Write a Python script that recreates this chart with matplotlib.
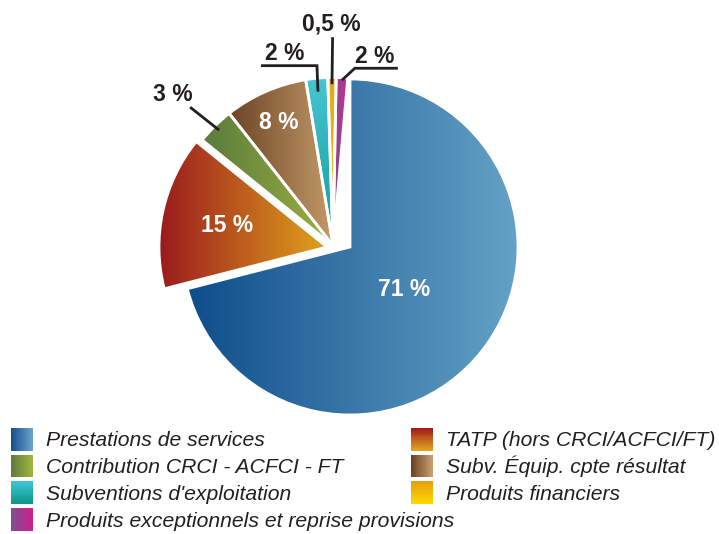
import numpy as np
import matplotlib
matplotlib.use("Agg")
import matplotlib.pyplot as plt
from matplotlib.legend_handler import HandlerBase
from matplotlib.patches import Rectangle
from matplotlib.colors import to_rgb

# ---------------- data ----------------
categories = [
    "Prestations de services",
    "TATP (hors CRCI/ACFCI/FT)",
    "Contribution CRCI - ACFCI - FT",
    "Subv. Équip. cpte résultat",
    "Subventions d'exploitation",
    "Produits financiers",
    "Produits exceptionnels et reprise provisions",
]
# share of the full circle (in %) as drawn in the picture
values = [71.0, 14.8, 3.6, 8.0, 2.1, 0.8, 1.1]
pct_labels = ["71 %", "15 %", "3 %", "8 %", "2 %", "0,5 %", "2 %"]

# ---------------- styles ----------------
# pie gradient: (start colour, end colour, vertical?)  start = left / top
pie_grad = [
    ("#0F4D8B", "#64A2C6", False),
    ("#9A1A1E", "#E0A21C", False),
    ("#5A7A3E", "#9CB03E", False),
    ("#6A4426", "#C49A68", False),
    ("#48C4D2", "#0F9E9A", True),
    ("#E8A614", "#F4C418", True),
    ("#7C4E8E", "#CC2A90", False),
]
leg_grad = [
    ("#1A4E8E", "#6AA4CC", False),
    ("#A01C1C", "#E2A41E", True),
    ("#5E7C3C", "#A2B43C", False),
    ("#6A4424", "#C8A070", False),
    ("#3CC6D4", "#0E9688", True),
    ("#E4A010", "#FFD800", True),
    ("#7C5090", "#D01E8C", False),
]
R_PX = 168.0
W, H = 719, 534
CX, CY = 343.0, 247.0
# offset of each slice (pixels, y up) – detached slices
shift_px = [(7, 0), (-16, 0), (-10, 1.5), (-10, 1.5), (-10, 1.5), (-10, 1.5), (-10, 1.5)]

plt.rcParams["font.family"] = ["Liberation Sans", "DejaVu Sans"]

fig = plt.figure(figsize=(W / 100, H / 100), dpi=100)
ax = fig.add_axes([0, 0, 1, 1])

frac = np.array(values) / 100.0
wp = dict(edgecolor="white", linewidth=2.0)
wA, _ = ax.pie(frac[:2], startangle=90, counterclock=False, radius=1.0,
               normalize=False, wedgeprops=wp)
wB, _ = ax.pie(frac[2:], startangle=90 - 360 * frac[:2].sum(), counterclock=False,
               radius=1.0, normalize=False, wedgeprops=wp)
wedges = list(wA) + list(wB)


def grad_array(c1, c2, vertical, n=256):
    a = np.array(to_rgb(c1))
    b = np.array(to_rgb(c2))
    t = np.linspace(0, 1, n)[:, None]
    cols = a + (b - a) * t
    if vertical:
        return cols[::-1][:, None, :]
    return cols[None, :, :]


for w, (dx, dy), (c1, c2, vert) in zip(wedges, shift_px, pie_grad):
    w.set_center((dx / R_PX, dy / R_PX))
    w.set_facecolor("none")
    w.set_zorder(3)
    ext = w.get_path().get_extents()
    im = ax.imshow(grad_array(c1, c2, vert), extent=[ext.x0, ext.x1, ext.y0, ext.y1],
                   origin="lower", aspect="auto", zorder=2, interpolation="bilinear")
    im.set_clip_path(w)


def wedge_point(w, f):
    th = np.deg2rad((w.theta1 + w.theta2) / 2.0)
    cx, cy = w.center
    return cx + f * w.r * np.cos(th), cy + f * w.r * np.sin(th)


lab_font = dict(fontsize=16.5, fontweight="bold", ha="center", va="center")

# inner labels
for idx, f in [(0, 0.41), (1, 0.61), (3, 0.80)]:
    x, y = wedge_point(wedges[idx], f)
    ax.text(x, y, pct_labels[idx], color="white", zorder=5, **lab_font)

# outer labels with leader lines (offsets in pixels, y up)
outer = [
    (2, 0.965, [(0, 0), (-29, 23)], (-46, 36)),
    (4, 0.92, [(0, 0), (-1, 26), (-57, 26)], (-33, 38.5)),
    (5, 0.96, [(0, 0), (0.6, 47)], (-0.4, 60.5)),
    (6, 0.985, [(0, 0), (13, 12), (56, 12)], (33, 23.5)),
]
for idx, f, pts, toff in outer:
    x, y = wedge_point(wedges[idx], f)
    xs = [x + p[0] / R_PX for p in pts]
    ys = [y + p[1] / R_PX for p in pts]
    ax.plot(xs, ys, color="#231F20", lw=2.0, zorder=6, solid_capstyle="butt",
            solid_joinstyle="miter")
    ax.text(x + toff[0] / R_PX, y + toff[1] / R_PX, pct_labels[idx], color="#231F20",
            zorder=6, **lab_font)

ax.set_xlim(-CX / R_PX, (W - CX) / R_PX)
ax.set_ylim(-(H - CY) / R_PX, CY / R_PX)
ax.set_aspect("equal")
ax.axis("off")


# ---------------- legend ----------------
class GradHandle:
    def __init__(self, c1, c2, vertical):
        self.c1, self.c2, self.vertical = c1, c2, vertical


class GradHandler(HandlerBase):
    def create_artists(self, legend, orig_handle, xdescent, ydescent, width, height,
                       fontsize, trans):
        n = 24
        a = np.array(to_rgb(orig_handle.c1))
        b = np.array(to_rgb(orig_handle.c2))
        arts = []
        for i in range(n):
            t = i / (n - 1)
            col = a + (b - a) * t
            if orig_handle.vertical:
                hh = height / n
                r = Rectangle((-xdescent, -ydescent + height - (i + 1) * hh), width, hh * 1.05,
                              facecolor=col, edgecolor="none", transform=trans)
            else:
                ww = width / n
                r = Rectangle((-xdescent + i * ww, -ydescent), ww * 1.05, height,
                              facecolor=col, edgecolor="none", transform=trans)
            arts.append(r)
        return arts


handles = [GradHandle(*g) for g in leg_grad]
hmap = {GradHandle: GradHandler()}
leg_kw = dict(handler_map=hmap, frameon=False, loc="upper left", borderaxespad=0,
              borderpad=0, handlelength=1.04, handleheight=1.263, handletextpad=0.62,
              labelspacing=0.2, prop=dict(family="Liberation Sans", style="italic", size=15.2),
              labelcolor="#231F20")

left_idx = [0, 2, 4, 6]
right_idx = [1, 3, 5]
leg1 = fig.legend([handles[i] for i in left_idx], [categories[i] for i in left_idx],
                  bbox_to_anchor=(11 / W, 1 - 428 / H), **leg_kw)
leg2 = fig.legend([handles[i] for i in right_idx], [categories[i] for i in right_idx],
                  bbox_to_anchor=(411 / W, 1 - 428 / H), **leg_kw)

fig.savefig("out.png", dpi=100)
